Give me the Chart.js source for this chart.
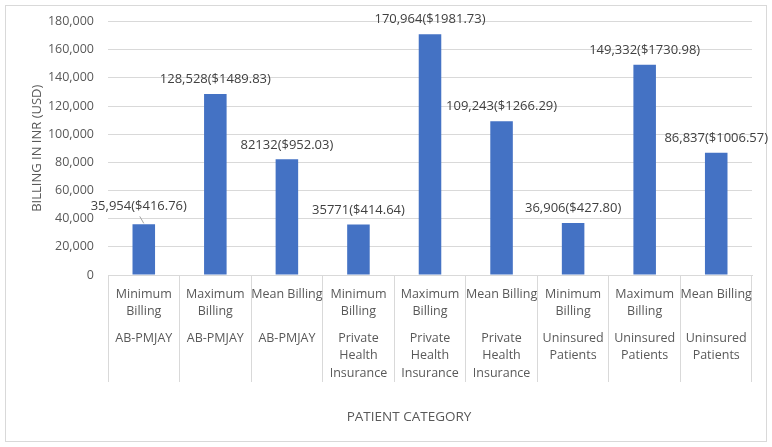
<!DOCTYPE html>
<html>
<head>
<meta charset="utf-8">
<script src="https://cdn.jsdelivr.net/npm/chart.js@4.4.1/dist/chart.umd.min.js"></script>
<style>
  html, body { margin: 0; padding: 0; background: #ffffff; }
  #wrap { width: 772px; height: 447px; position: relative; }
</style>
</head>
<body>
<div id="wrap"><canvas id="c" width="772" height="447"></canvas></div>
<script>
// ---- data ----
const billingTypes = [
  ["Minimum", "Billing"], ["Maximum", "Billing"], ["Mean Billing"],
  ["Minimum", "Billing"], ["Maximum", "Billing"], ["Mean Billing"],
  ["Minimum", "Billing"], ["Maximum", "Billing"], ["Mean Billing"]
];
const patientGroups = [
  ["AB-PMJAY"], ["AB-PMJAY"], ["AB-PMJAY"],
  ["Private", "Health", "Insurance"], ["Private", "Health", "Insurance"], ["Private", "Health", "Insurance"],
  ["Uninsured", "Patients"], ["Uninsured", "Patients"], ["Uninsured", "Patients"]
];
const billingINR = [35954, 128528, 82132, 35771, 170964, 109243, 36906, 149332, 86837];
const valueLabels = [
  "35,954($416.76)", "128,528($1489.83)", "82132($952.03)",
  "35771($414.64)", "170,964($1981.73)", "109,243($1266.29)",
  "36,906($427.80)", "149,332($1730.98)", "86,837($1006.57)"
];
const yTicks = [0, 20000, 40000, 60000, 80000, 100000, 120000, 140000, 160000, 180000];
const yAxisTitle = "BILLING IN INR (USD)";
const xAxisTitle = "PATIENT CATEGORY";

// ---- styling ----
const FONT = "'Open Sans', 'Noto Sans', sans-serif";
const TEXT = '#595959';
const GRID = '#d9d9d9';
Chart.defaults.font.family = FONT;
Chart.defaults.color = TEXT;

const framePlugin = {
  id: 'frame',
  beforeDraw(chart) {
    const ctx = chart.ctx;
    ctx.save();
    ctx.fillStyle = '#ffffff';
    ctx.fillRect(0, 0, chart.width, chart.height);
    ctx.strokeStyle = GRID;
    ctx.lineWidth = 1;
    ctx.strokeRect(5.5, 5.5, chart.width - 11, chart.height - 11);
    ctx.restore();
  }
};

const xTitlePos = { x: 409, y: 417 };
const xLabelPlugin = {
  id: 'xLabels',
  afterDraw(chart) {
    const ctx = chart.ctx;
    const xs = chart.scales.x;
    const base = chart.chartArea.bottom;
    ctx.save();
    ctx.font = "12.5px " + FONT;
    ctx.fillStyle = TEXT;
    ctx.textAlign = 'center';
    ctx.textBaseline = 'middle';
    billingTypes.forEach((lines, i) => {
      const x = xs.getPixelForValue(i);
      lines.forEach((t, j) => ctx.fillText(t, x, base + 19 + j * 17.5));
      patientGroups[i].forEach((t, j) => ctx.fillText(t, x, base + 63 + j * 17.5));
    });
    ctx.font = "13.5px " + FONT;
    ctx.fillText(xAxisTitle, xTitlePos.x, xTitlePos.y);
    ctx.restore();
  }
};

const movedLabel = { index: 0, dx: -5, dy: -3.5 };
const dataLabelPlugin = {
  id: 'dataLabels',
  afterDatasetsDraw(chart) {
    const ctx = chart.ctx;
    const meta = chart.getDatasetMeta(0);
    ctx.save();
    ctx.font = "13px " + FONT;
    ctx.fillStyle = '#404040';
    ctx.textAlign = 'center';
    ctx.textBaseline = 'middle';
    meta.data.forEach((bar, i) => {
      let x = bar.x, y = bar.y - 14.5;
      if (i === movedLabel.index) {
        x += movedLabel.dx; y += movedLabel.dy;
        ctx.strokeStyle = '#a6a6a6';
        ctx.lineWidth = 1;
        ctx.beginPath();
        ctx.moveTo(x + 1, y + 10);
        ctx.lineTo(bar.x, bar.y - 1);
        ctx.stroke();
      }
      ctx.fillText(valueLabels[i], x, y);
    });
    ctx.restore();
  }
};

new Chart(document.getElementById('c'), {
  type: 'bar',
  data: {
    labels: billingTypes.map((b, i) => b.join(' ') + ' ' + patientGroups[i].join(' ')),
    datasets: [{
      data: billingINR,
      backgroundColor: '#4472C4',
      borderWidth: 0,
      categoryPercentage: 1,
      barPercentage: 0.315
    }]
  },
  options: {
    responsive: false,
    animation: false,
    devicePixelRatio: 1,
    layout: { padding: { left: 8, right: 20, top: 20, bottom: 7 } },
    plugins: { legend: { display: false }, tooltip: { enabled: false } },
    scales: {
      x: {
        offset: true,
        grid: { color: GRID, drawOnChartArea: false, drawTicks: true, tickLength: 107, offset: true },
        border: { display: true, color: GRID },
        ticks: { display: false },
        title: { display: false, text: xAxisTitle },
        afterFit(s) { s.height = 165; }
      },
      y: {
        min: 0, max: 180000,
        afterBuildTicks(s) { s.ticks = yTicks.map(v => ({ value: v })); },
        grid: { color: GRID, drawTicks: false },
        border: { display: false },
        ticks: {
          padding: 14, color: TEXT, font: { size: 12.5 },
          callback: v => v.toLocaleString('en-US')
        },
        title: { display: true, text: yAxisTitle, color: TEXT, font: { size: 13 }, padding: { top: 21, bottom: 0 } },
        afterFit(s) { s.width = 100; }
      }
    }
  },
  plugins: [framePlugin, xLabelPlugin, dataLabelPlugin]
});
</script>
</body>
</html>
